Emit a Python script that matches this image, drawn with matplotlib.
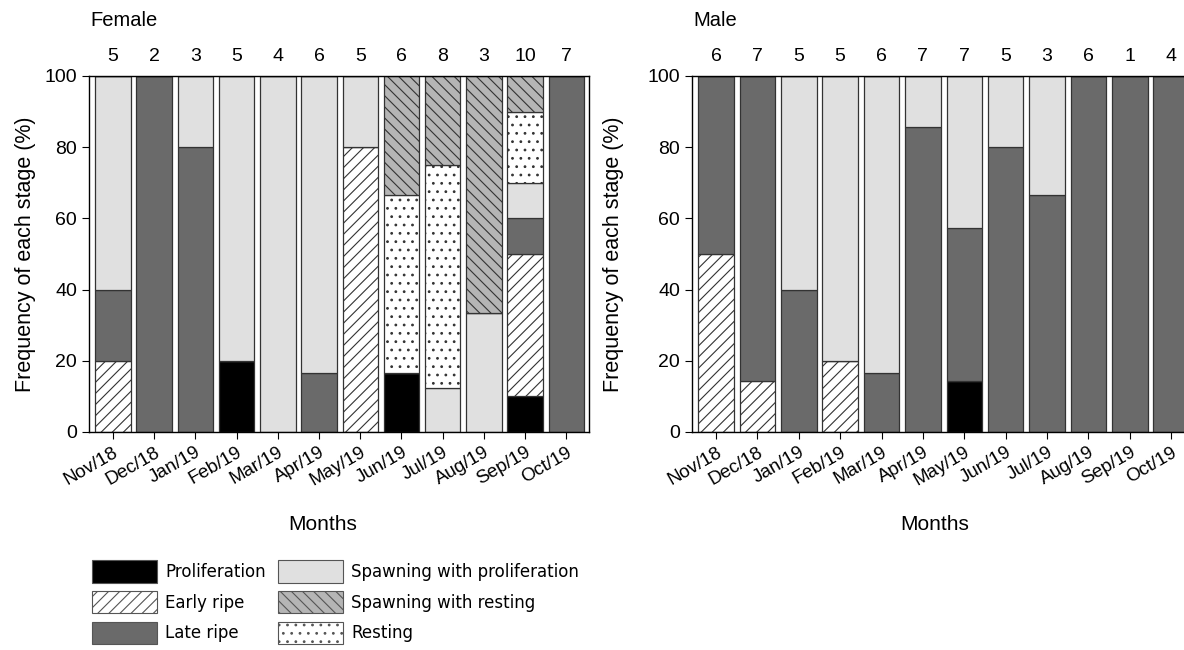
import matplotlib
matplotlib.use('Agg')
import matplotlib.pyplot as plt
from matplotlib.patches import Patch
import numpy as np

plt.rcParams['font.family'] = ['Liberation Sans', 'DejaVu Sans']
plt.rcParams['hatch.linewidth'] = 0.8
plt.rcParams['hatch.color'] = 'black'

meses = ['Nov/18', 'Dec/18', 'Jan/19', 'Feb/19', 'Mar/19', 'Apr/19',
         'May/19', 'Jun/19', 'Jul/19', 'Aug/19', 'Sep/19', 'Oct/19']

estadios = ['Proliferation', 'Early ripe', 'Late ripe',
            'Spawning with proliferation', 'Resting', 'Spawning with resting']

# Hembras (%), orden de apilado de abajo a arriba
f_prolif = [0, 0, 0, 20, 0, 0, 0, 16.7, 0, 0, 10, 0]
f_early = [20, 0, 0, 0, 0, 0, 80, 0, 0, 0, 40, 0]
f_late = [20, 100, 80, 0, 0, 16.7, 0, 0, 0, 0, 10, 100]
f_sp_prolif = [60, 0, 20, 80, 100, 83.3, 20, 0, 12.5, 33.3, 10, 0]
f_resting = [0, 0, 0, 0, 0, 0, 0, 50, 62.5, 0, 20, 0]
f_sp_resting = [0, 0, 0, 0, 0, 0, 0, 33.3, 25, 66.7, 10, 0]
f_n = [5, 2, 3, 5, 4, 6, 5, 6, 8, 3, 10, 7]

# Machos (%)
m_prolif = [0, 0, 0, 0, 0, 0, 14.3, 0, 0, 0, 0, 0]
m_early = [50, 14.3, 0, 20, 0, 0, 0, 0, 0, 0, 0, 0]
m_late = [50, 85.7, 40, 0, 16.7, 85.7, 42.9, 80, 66.7, 100, 100, 100]
m_sp_prolif = [0, 0, 60, 80, 83.3, 14.3, 42.8, 20, 33.3, 0, 0, 0]
m_resting = [0] * 12
m_sp_resting = [0] * 12
m_n = [6, 7, 5, 5, 6, 7, 7, 5, 3, 6, 1, 4]

# Estilo de cada estadio: (color, hatch)
estilos = [('black', None), ('white', '///'), ('#6a6a6a', None),
           ('#e0e0e0', None), ('white', '..'), ('#b5b5b5', '\\\\\\')]

W, H = 1184, 650


def dibujar_panel(ax, series, n, titulo, x_label_months, x_ylabel):
    x = np.arange(len(meses))
    abajo = np.zeros(len(meses))
    for valores, (color, hatch) in zip(series, estilos):
        valores = np.array(valores, dtype=float)
        ax.bar(x, valores, width=0.86, bottom=abajo, color=color, hatch=hatch,
               edgecolor='#333333', linewidth=0.9)
        abajo += valores
    for i in range(len(meses)):
        ax.text(x[i], 105.6, str(n[i]), ha='center', va='center', fontsize=14)
    ax.text(-0.55, 115.5, titulo, ha='left', va='center', fontsize=14.5)
    ax.set_xlim(-0.58, 11.55)
    ax.set_ylim(0, 100)
    ax.set_yticks(range(0, 101, 20))
    ax.set_xticks(x)
    ax.set_xticklabels(meses, rotation=30, ha='right', rotation_mode='anchor', fontsize=13.5)
    ax.tick_params(axis='y', labelsize=14, length=5, direction='out')
    ax.tick_params(axis='x', length=5, direction='out')
    ax.set_xlabel('Months', fontsize=15)
    ax.set_ylabel('Frequency of each stage (%)', fontsize=15.5)
    # posiciones de las etiquetas en pixeles de la figura
    bb = ax.get_position()
    ax.xaxis.set_label_coords((x_label_months / W - bb.x0) / bb.width,
                              ((1 - 525 / H) - bb.y0) / bb.height)
    ax.xaxis.label.set_va('center')
    ax.yaxis.set_label_coords((x_ylabel / W - bb.x0) / bb.width, 0.5)
    ax.yaxis.label.set_va('center')
    for s in ax.spines.values():
        s.set_linewidth(1.0)


fig = plt.figure(figsize=(11.84, 6.5), dpi=100)
ax1 = fig.add_axes([89 / W, 1 - 432 / H, 500 / W, 356 / H])
ax2 = fig.add_axes([692 / W, 1 - 432 / H, 502 / W, 356 / H])

dibujar_panel(ax1, [f_prolif, f_early, f_late, f_sp_prolif, f_resting, f_sp_resting],
              f_n, 'Female', 323, 25)
dibujar_panel(ax2, [m_prolif, m_early, m_late, m_sp_prolif, m_resting, m_sp_resting],
              m_n, 'Male', 935, 613)

# Leyenda: primera columna P, E, L; segunda SP, SR, R
orden = [0, 1, 2, 3, 5, 4]
handles = [Patch(facecolor=estilos[k][0], hatch=estilos[k][1], edgecolor='#555555',
                 linewidth=0.8, label=estadios[k]) for k in orden]
fig.legend(handles=handles, loc='upper left', bbox_to_anchor=(92 / W, 1 - 560 / H),
           ncol=2, frameon=False, prop={'family': 'DejaVu Sans', 'size': 12},
           handlelength=3.9, handleheight=1.7, labelspacing=0.5, handletextpad=0.5,
           columnspacing=0.7, borderpad=0, borderaxespad=0)

plt.savefig('out.png', dpi=100)
plt.close()
